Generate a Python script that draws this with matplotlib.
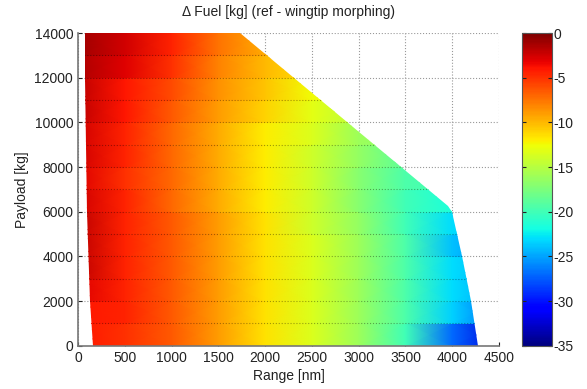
import numpy as np
from matplotlib import pyplot as plt
from matplotlib.patches import Polygon

plt.rcParams['font.family'] = ['Liberation Sans', 'DejaVu Sans']
plt.rcParams['axes.unicode_minus'] = False

# range nodes [nm] and payload bands [kg]
range_nodes = [0, 500, 1000, 1500, 2000, 2500, 3000, 3500, 4000, 4500]
band_edges = [0, 1000, 2000, 3000, 4000, 5000, 6000, 7000, 8000, 9000,
              10000, 11000, 12000, 13000, 14000]

# delta fuel [kg] per payload band (bottom to top) at range_nodes
dfuel = [
    [-4.0, -5.0, -6.5, -9.0, -11.5, -13.5, -16.0, -20.0, -27.0, -32.0],
    [-4.0, -4.5, -6.5, -9.0, -11.5, -13.5, -16.0, -19.5, -23.5, -27.0],
    [-3.0, -4.5, -6.5, -9.0, -11.5, -13.5, -16.0, -19.5, -23.0, -25.0],
    [-2.0, -4.5, -6.5, -9.0, -11.5, -13.5, -16.0, -19.5, -23.0, -24.5],
    [-2.0, -4.5, -6.5, -9.0, -11.5, -13.5, -16.0, -19.5, -24.0, -26.0],
    [-2.0, -4.5, -6.5, -9.0, -11.5, -14.0, -16.5, -20.0, -23.0, -24.0],
    [-2.5, -4.5, -7.0, -9.5, -12.0, -14.0, -17.0, -20.0, -21.5, -21.5],
    [-3.0, -5.0, -7.0, -9.5, -12.0, -14.0, -17.0, -19.5, -20.0, -20.0],
    [-2.5, -4.5, -7.0, -9.5, -12.0, -14.0, -16.5, -19.0, -19.0, -19.0],
    [-2.5, -4.5, -7.0, -9.5, -12.0, -13.5, -16.0, -17.0, -17.0, -17.0],
    [-2.0, -4.0, -6.5, -9.0, -11.0, -13.0, -15.0, -15.0, -15.0, -15.0],
    [-2.0, -4.0, -6.0, -8.5, -10.5, -12.5, -13.0, -13.0, -13.0, -13.0],
    [-1.5, -3.0, -5.0, -8.0, -10.0, -11.5, -11.5, -11.5, -11.5, -11.5],
    [-1.0, -2.5, -4.5, -7.5, -9.5, -10.5, -10.5, -10.5, -10.5, -10.5],
]

# payload-range envelope
env_range = [160, 130, 100, 75, 75, 1730, 3960, 4000, 4110, 4200, 4280]
env_payload = [0, 2000, 6000, 12000, 14000, 14000, 6250, 6000, 4000, 2000, 0]

fig = plt.figure(figsize=(5.87, 3.89), dpi=100)
ax = fig.add_axes([0.133, 0.111, 0.717, 0.804])

# two rows per band so colour steps between bands
ys, zs = [], []
for i, row in enumerate(dfuel):
    ys += [band_edges[i], band_edges[i + 1] - 1]
    zs += [row, row]
X, Y = np.meshgrid(range_nodes, ys)
Z = np.array(zs)

im = ax.pcolormesh(X, Y, Z, shading='gouraud', cmap='jet', vmin=-35, vmax=0, zorder=2)
env = Polygon(list(zip(env_range, env_payload)), closed=True, fc='none', ec='none',
              transform=ax.transData)
ax.add_patch(env)
im.set_clip_path(env)

bands = ax.hlines(band_edges[1:-1], 0, 4500, colors='k', linewidth=0.8,
                  linestyles=':', alpha=0.35, zorder=3)
bands.set_clip_path(env)

ax.set_xlim(0, 4500)
ax.set_ylim(0, 14000)
ax.set_xticks(np.arange(0, 4501, 500))
ax.set_yticks(np.arange(0, 14001, 2000))
ax.grid(True, linestyle=':', color='#999999', linewidth=0.8)
ax.set_axisbelow(True)
for s in ['top', 'right']:
    ax.spines[s].set_visible(False)
for s in ['left', 'bottom']:
    ax.spines[s].set_color('#777777')
    ax.spines[s].set_linewidth(1.2)
ax.tick_params(direction='in', length=3, labelsize=10, colors='#222222')
ax.set_xlabel('Range [nm]', fontsize=10, color='#222222', labelpad=3)
ax.set_ylabel('Payload [kg]', fontsize=10, color='#222222', labelpad=4)
ax.set_title('\u0394 Fuel [kg] (ref - wingtip morphing)', fontsize=10, color='#222222', pad=12)

cax = fig.add_axes([0.889, 0.111, 0.051, 0.804])
cb = fig.colorbar(im, cax=cax, ticks=np.arange(-35, 1, 5))
cb.outline.set_edgecolor('#555555')
cax.tick_params(direction='in', length=3, labelsize=10, colors='#222222', left=True, right=True, pad=1)

plt.savefig('out.png', dpi=100)
